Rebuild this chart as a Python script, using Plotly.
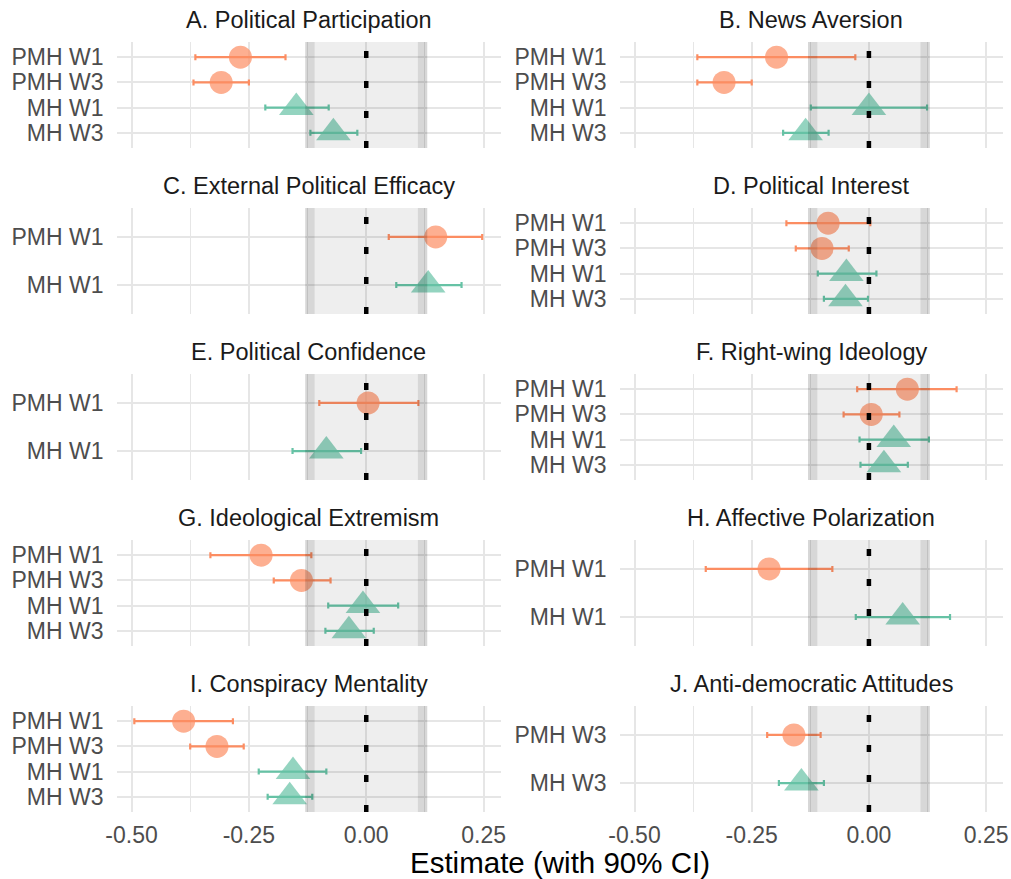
import plotly.graph_objects as go

# ---------------- data ----------------
titles = [
    "A. Political Participation", "B. News Aversion",
    "C. External Political Efficacy", "D. Political Interest",
    "E. Political Confidence", "F. Right-wing Ideology",
    "G. Ideological Extremism", "H. Affective Polarization",
    "I. Conspiracy Mentality", "J. Anti-democratic Attitudes",
]
labels = [
    ["PMH W1", "PMH W3", "MH W1", "MH W3"],
    ["PMH W1", "PMH W3", "MH W1", "MH W3"],
    ["PMH W1", "MH W1"],
    ["PMH W1", "PMH W3", "MH W1", "MH W3"],
    ["PMH W1", "MH W1"],
    ["PMH W1", "PMH W3", "MH W1", "MH W3"],
    ["PMH W1", "PMH W3", "MH W1", "MH W3"],
    ["PMH W1", "MH W1"],
    ["PMH W1", "PMH W3", "MH W1", "MH W3"],
    ["PMH W3", "MH W3"],
]
estimates = [
    [-0.268, -0.309, -0.149, -0.070],
    [-0.197, -0.309, 0.000, -0.135],
    [0.148, 0.132],
    [-0.087, -0.100, -0.048, -0.050],
    [0.004, -0.085],
    [0.082, 0.005, 0.053, 0.032],
    [-0.224, -0.138, -0.007, -0.037],
    [-0.213, 0.072],
    [-0.389, -0.318, -0.156, -0.163],
    [-0.160, -0.144],
]
lower = [
    [-0.364, -0.368, -0.215, -0.119],
    [-0.366, -0.366, -0.124, -0.183],
    [0.048, 0.064],
    [-0.176, -0.156, -0.109, -0.096],
    [-0.100, -0.157],
    [-0.025, -0.054, -0.020, -0.018],
    [-0.332, -0.197, -0.081, -0.087],
    [-0.348, -0.028],
    [-0.494, -0.375, -0.229, -0.210],
    [-0.217, -0.192],
]
upper = [
    [-0.172, -0.250, -0.080, -0.019],
    [-0.029, -0.250, 0.124, -0.086],
    [0.247, 0.203],
    [0.003, -0.043, 0.016, -0.002],
    [0.111, -0.011],
    [0.187, 0.065, 0.128, 0.083],
    [-0.117, -0.076, 0.068, 0.016],
    [-0.078, 0.173],
    [-0.284, -0.261, -0.085, -0.115],
    [-0.103, -0.096],
]
x_ticks = [-0.5, -0.25, 0.0, 0.25]
x_tick_labels = ["-0.50", "-0.25", "0.00", "0.25"]
x_minor = [-0.375, -0.125, 0.125]
band_outer = 0.13
band_inner = 0.11

# ---------------- styling / layout ----------------
W, H = 1011, 879
FONT = "Liberation Sans, Arial, Helvetica, sans-serif"
col_px = [(116.5, 500.5), (619.5, 1003.0)]
row_top = [42 + 166 * r for r in range(5)]
panel_h = 106
xrange = [-0.532, 0.286]
COL_PMH = "#FC8D62"
COL_MH = "#66C2A5"
GRID = "#E6E6E6"

fig = go.Figure()
layout = dict(
    width=W, height=H, margin=dict(l=0, r=0, t=0, b=0, autoexpand=False),
    paper_bgcolor="white", plot_bgcolor="white", showlegend=False,
    font=dict(family=FONT, size=23, color="#4D4D4D"),
)
shapes = []
annotations = []

for i in range(len(titles)):
    r, c = divmod(i, 2)
    k = i + 1
    sfx = "" if k == 1 else str(k)
    x0, x1 = col_px[c]
    top = row_top[r]
    n = len(labels[i])
    layout["xaxis" + sfx] = dict(
        domain=[x0 / W, x1 / W], range=xrange, anchor="y" + sfx, automargin=False,
        tickvals=x_ticks, ticktext=x_tick_labels, showticklabels=(r == 4),
        ticks="", ticklabelstandoff=7,
        showgrid=True, gridcolor=GRID, gridwidth=1.6, zeroline=False, showline=False,
        minor=dict(tickvals=x_minor, showgrid=True, gridcolor=GRID, gridwidth=1),
        tickfont=dict(size=23, color="#4D4D4D", family=FONT),
        fixedrange=True,
    )
    layout["yaxis" + sfx] = dict(
        domain=[1 - (top + panel_h) / H, 1 - top / H], range=[n + 0.6, 0.4],
        anchor="x" + sfx, automargin=False,
        tickvals=list(range(1, n + 1)), ticktext=labels[i],
        ticks="", ticklabelstandoff=12,
        showgrid=True, gridcolor=GRID, gridwidth=1.6, zeroline=False, showline=False,
        tickfont=dict(size=23, color="#4D4D4D", family=FONT),
        fixedrange=True,
    )
    xref = "x" + sfx
    yref = "y" + sfx + " domain"
    # shaded equivalence band
    shapes.append(dict(type="rect", xref=xref, yref=yref, x0=-band_outer, x1=band_outer,
                       y0=0, y1=1, fillcolor="rgba(0,0,0,0.065)", line=dict(width=0),
                       layer="above"))
    for a, b in [(-band_outer, -band_inner), (band_inner, band_outer)]:
        shapes.append(dict(type="rect", xref=xref, yref=yref, x0=a, x1=b,
                           y0=0, y1=1, fillcolor="rgba(0,0,0,0.095)", line=dict(width=0),
                           layer="above"))
    # dotted zero line
    shapes.append(dict(type="line", xref=xref, yref=yref, x0=0, x1=0, y0=0, y1=1,
                       line=dict(color="black", width=4.5, dash="7px,23px"),
                       layer="above"))
    # points
    for grp, col, sym, size in [("PMH", COL_PMH, "circle", 23), ("MH", COL_MH, "triangle-up", 30)]:
        idx = [j for j, lab in enumerate(labels[i]) if lab.split()[0] == grp]
        if not idx:
            continue
        xs = [estimates[i][j] for j in idx]
        ys = [j + 1 for j in idx]
        plus = [upper[i][j] - estimates[i][j] for j in idx]
        minus = [estimates[i][j] - lower[i][j] for j in idx]
        fig.add_trace(go.Scatter(
            x=xs, y=ys, mode="markers", xaxis=xref, yaxis="y" + sfx,
            error_x=dict(type="data", symmetric=False, array=plus, arrayminus=minus,
                         color=col, thickness=2.2, width=3),
            marker=dict(symbol=sym, size=size, color=col, opacity=0.7, line=dict(width=0)),
            hoverinfo="skip",
        ))
    # panel title
    annotations.append(dict(
        text=titles[i], xref="paper", yref="paper",
        x=((x0 + x1) / 2) / W, y=1 - (top - 22) / H, xanchor="center", yanchor="middle",
        showarrow=False, font=dict(size=23.5, color="#1A1A1A", family=FONT),
    ))

annotations.append(dict(
    text="Estimate (with 90% CI)", xref="paper", yref="paper",
    x=((col_px[0][0] + col_px[1][1]) / 2) / W, y=1 - 862 / H,
    xanchor="center", yanchor="middle", showarrow=False,
    font=dict(size=29.5, color="black", family=FONT),
))

layout["shapes"] = shapes
layout["annotations"] = annotations
fig.update_layout(**layout)
fig.write_html("out.html")
